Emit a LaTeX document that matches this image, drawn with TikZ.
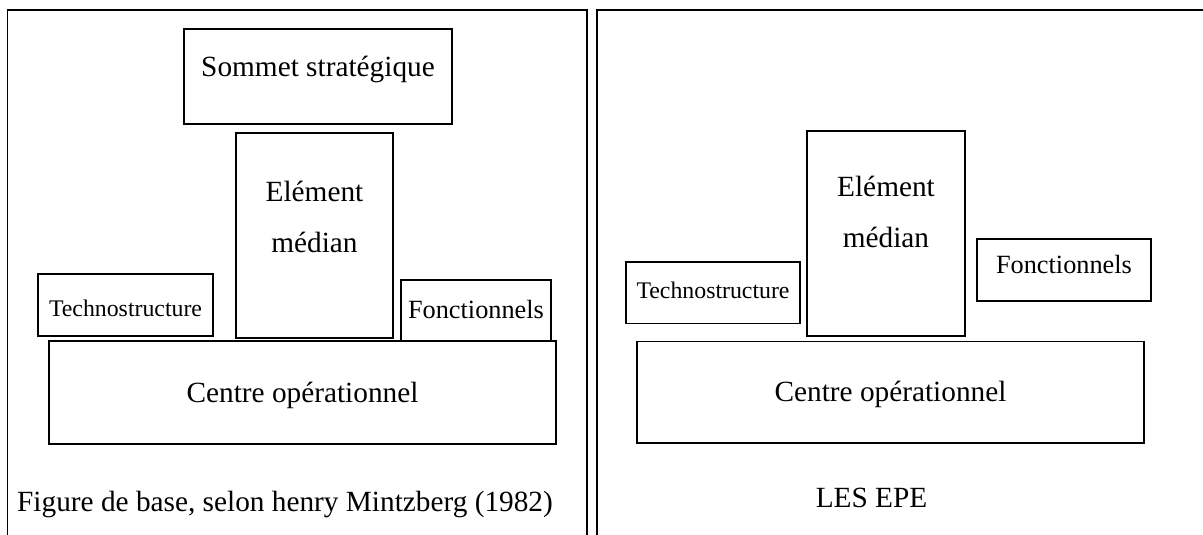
\documentclass[tikz,border=0pt]{standalone}
\usepackage{fontspec}
\setmainfont{Liberation Serif}
\usepackage{tikz}
\usetikzlibrary{positioning}

\newcommand{\bigtxt}{\fontsize{29.3pt}{51pt}\selectfont}
\newcommand{\fonctxt}{\fontsize{26.3pt}{30pt}\selectfont}
\newcommand{\technotxt}{\fontsize{23.8pt}{28pt}\selectfont}

\begin{document}
\begin{tikzpicture}[x=1pt, y=1pt, node distance=588pt]
\tikzstyle{block} = [rectangle, draw=black, line width=1.5pt, inner sep=0pt, text height=30pt, font=\bigtxt]
\tikzstyle{frame} = [line width=1.5pt]
\tikzstyle{caption} = [inner sep=0pt, font=\bigtxt]

\useasboundingbox (0,0) rectangle (1203,535);

% left panel: Mintzberg
\draw [frame] (7.5,0) -- (7.5,525) -- (587,525) -- (587,0);
\node (sommet) [block, minimum width=268pt, minimum height=95pt, text depth=29pt] at (318,458.5) {Sommet stratégique};
\node (medianA) [block, align=center, minimum width=157pt, minimum height=205pt, text height=60pt, text depth=25pt] at (314.5,299.5) {Elément\\médian};
\node (technoA) [block, font=\technotxt, minimum width=175pt, minimum height=62pt, text depth=6.6pt] at (125.5,230) {Technostructure};
\node (fonctA) [block, font=\fonctxt, minimum width=150pt, minimum height=61pt, text depth=14.4pt] at (476,224.5) {Fonctionnels};
\node (centreA) [block, minimum width=507pt, minimum height=103pt, text depth=9pt] at (302.5,142.5) {Centre opérationnel};
\node (figA) [caption, anchor=base west] at (17,23.3) {Figure de base, selon henry Mintzberg (1982)};

% right panel: EPE
\draw [frame] (597,0) -- (597,525) -- (1203,525);
\node (medianB) [block, align=center, minimum width=158pt, minimum height=205pt, text height=60pt, text depth=31pt, right of=medianA, xshift=-16.5pt, yshift=2pt] {Elément\\médian};
\node (technoB) [block, font=\technotxt, minimum width=174pt, minimum height=61.5pt, text depth=19.4pt, right of=technoA, xshift=-0.5pt, yshift=12.25pt] {Technostructure};
\node (fonctB) [block, font=\fonctxt, minimum width=174pt, minimum height=62pt, text depth=23.4pt, right of=fonctA, yshift=40.5pt] {Fonctionnels};
\node (centreB) [block, minimum width=507pt, minimum height=101.5pt, text depth=11.6pt, right of=centreA] {Centre opérationnel};
\node (figB) [caption, anchor=base] at (871.5,27) {LES EPE};
\end{tikzpicture}
\end{document}
